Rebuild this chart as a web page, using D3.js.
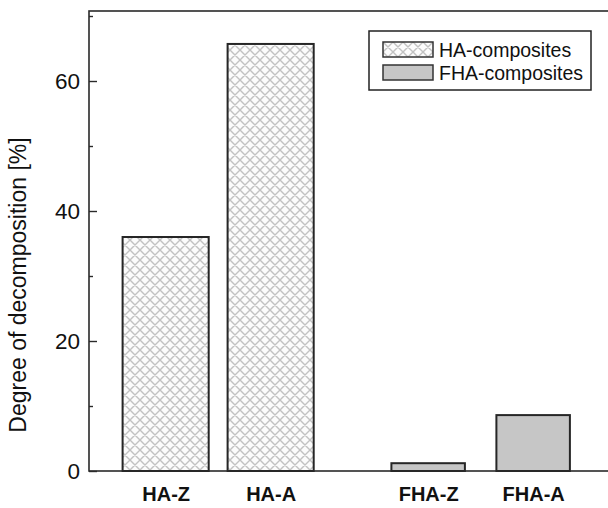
<!DOCTYPE html>
<html>
<head>
<meta charset="utf-8">
<script src="https://cdn.jsdelivr.net/npm/d3@7"></script>
<style>
  html, body { margin: 0; padding: 0; background: #fff; }
  svg { display: block; font-family: 'Liberation Sans', Arial, sans-serif; }
</style>
</head>
<body>
<div id="chart"></div>
<script>
// chart values
const categories = ['HA-Z', 'HA-A', 'FHA-Z', 'FHA-A'];
const positions = [1, 2, 3.5, 4.5];
const values = [36, 65.7, 1.2, 8.6];
const groups = ['HA-composites', 'HA-composites', 'FHA-composites', 'FHA-composites'];
const legendLabels = ['HA-composites', 'FHA-composites'];
const yMajorTicks = [0, 20, 40, 60];
const yMinorTicks = [10, 30, 50, 70];

const width = 608;
const height = 508;
const plot = { left: 89, top: 11, right: 614, bottom: 471 };

const svg = d3.select('#chart')
  .append('svg')
  .attr('width', width)
  .attr('height', height);

// cross hatch for the HA bars
const defs = svg.append('defs');
const hatch = defs.append('pattern')
  .attr('id', 'hatch')
  .attr('patternUnits', 'userSpaceOnUse')
  .attr('width', 10)
  .attr('height', 10);
hatch.append('rect').attr('width', 10).attr('height', 10).attr('fill', '#fcfcfc');
hatch.append('path')
  .attr('d', 'M0,0 L10,10 M10,0 L0,10 M-1,9 L1,11 M9,-1 L11,1 M-1,1 L1,-1 M9,11 L11,9')
  .attr('stroke', '#c2c2c2')
  .attr('stroke-width', 1.4)
  .attr('fill', 'none');

const style = {
  'HA-composites': { fill: 'url(#hatch)', width: 0.82 },
  'FHA-composites': { fill: '#c6c6c6', width: 0.7 },
};

const x = d3.scaleLinear().domain([0.27, 5.27]).range([plot.left, plot.right]);
const y = d3.scaleLinear().domain([0, 70.77]).range([plot.bottom, plot.top]);

// bars
svg.append('g')
  .selectAll('rect')
  .data(categories.map((c, i) => ({ name: c, pos: positions[i], value: values[i], group: groups[i] })))
  .join('rect')
  .attr('x', (d) => x(d.pos - style[d.group].width / 2))
  .attr('y', (d) => y(d.value))
  .attr('width', (d) => x(d.pos + style[d.group].width / 2) - x(d.pos - style[d.group].width / 2))
  .attr('height', (d) => y(0) - y(d.value))
  .attr('fill', (d) => style[d.group].fill)
  .attr('stroke', '#262626')
  .attr('stroke-width', 2);

// frame
svg.append('rect')
  .attr('x', plot.left)
  .attr('y', plot.top)
  .attr('width', plot.right - plot.left)
  .attr('height', plot.bottom - plot.top)
  .attr('fill', 'none')
  .attr('stroke', '#2a2a2a')
  .attr('stroke-width', 1.6);

// y axis, ticks point inward
const yAxis = svg.append('g')
  .attr('transform', `translate(${plot.left},0)`)
  .call(d3.axisLeft(y).tickValues(yMajorTicks).tickSize(-8).tickPadding(9));
yAxis.select('.domain').remove();
yAxis.selectAll('.tick line').attr('stroke', '#2a2a2a').attr('stroke-width', 1.4);
yAxis.selectAll('.tick text')
  .attr('fill', '#111')
  .style('font-size', '22.5px')
  .style('font-family', "'Liberation Sans', Arial, sans-serif");

const yMinor = svg.append('g')
  .attr('transform', `translate(${plot.left},0)`)
  .call(d3.axisLeft(y).tickValues(yMinorTicks).tickSize(-4).tickFormat(''));
yMinor.select('.domain').remove();
yMinor.selectAll('.tick line').attr('stroke', '#2a2a2a').attr('stroke-width', 1.4);

// x axis labels
const xAxis = svg.append('g')
  .attr('transform', `translate(0,${plot.bottom})`)
  .call(d3.axisBottom(x).tickValues(positions).tickSize(0).tickPadding(16)
    .tickFormat((d) => categories[positions.indexOf(d)]));
xAxis.select('.domain').remove();
xAxis.selectAll('.tick text')
  .attr('fill', '#111')
  .style('font-size', '20px')
  .style('font-weight', 'bold')
  .style('font-family', "'Liberation Sans', Arial, sans-serif");

// y label
svg.append('text')
  .attr('transform', 'translate(26,285) rotate(-90)')
  .attr('text-anchor', 'middle')
  .attr('fill', '#111')
  .style('font-size', '23px')
  .text('Degree of decomposition [%]');

// legend
const legend = svg.append('g').attr('transform', 'translate(369,31)');
legend.append('rect')
  .attr('width', 222)
  .attr('height', 59)
  .attr('fill', '#fff')
  .attr('stroke', '#222')
  .attr('stroke-width', 1.5);
legendLabels.forEach((label, i) => {
  const row = legend.append('g').attr('transform', `translate(14,${11 + i * 23})`);
  row.append('rect')
    .attr('width', 50)
    .attr('height', 15)
    .attr('fill', style[label].fill)
    .attr('stroke', '#333')
    .attr('stroke-width', 1.5);
  row.append('text')
    .attr('x', 56)
    .attr('y', 15)
    .attr('fill', '#111')
    .style('font-size', '19.5px')
    .text(label);
});
</script>
</body>
</html>
